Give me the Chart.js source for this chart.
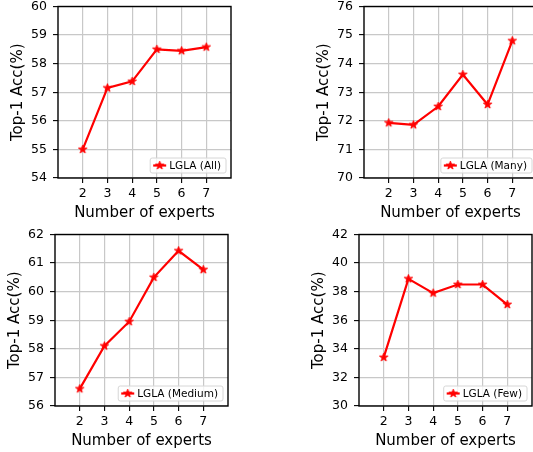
<!DOCTYPE html>
<html>
<head>
<meta charset="utf-8">
<script src="https://cdn.jsdelivr.net/npm/chart.js@4"></script>
<style>
  html, body { margin: 0; padding: 0; background: #fff; }
  body { width: 533px; height: 452px; position: relative; overflow: hidden; }
  canvas { position: absolute; }
</style>
</head>
<body>
<canvas id="pAll" width="245" height="235" style="left:-2px;top:-7px"></canvas>
<canvas id="pMany" width="245" height="235" style="left:304px;top:-7px"></canvas>
<canvas id="pMedium" width="245" height="235" style="left:-5px;top:221px"></canvas>
<canvas id="pFew" width="245" height="235" style="left:299px;top:221px"></canvas>
<script>
// number of experts on the x axis
const experts = [2, 3, 4, 5, 6, 7];

// Top-1 accuracy per split
const accAll    = [55.0, 57.15, 57.38, 58.5, 58.45, 58.58];
const accMany   = [71.93, 71.86, 72.5, 73.62, 72.57, 74.8];
const accMedium = [56.6, 58.1, 58.95, 60.5, 61.43, 60.77];
const accFew    = [33.4, 38.9, 37.9, 38.5, 38.5, 37.1];

// y axis ranges [min, max, step]
const yAll    = [54, 60, 1];
const yMany   = [70, 76, 1];
const yMedium = [56, 62, 1];
const yFew    = [30, 42, 2];

const FONT = 'DejaVu Sans';
const RED = '#ff0000';

// filled five point star, like matplotlib '*'
function makeStar(r) {
    let c = document.createElement('canvas');
    let s = Math.ceil(r * 2 + 2);
    c.width = s; c.height = s;
    let g = c.getContext('2d');
    g.beginPath();
    for (let i = 0; i < 10; i++) {
        let rad = (i % 2 == 0) ? r : r * 0.382;
        let a = -Math.PI / 2 + i * Math.PI / 5;
        let px = s / 2 + rad * Math.cos(a), py = s / 2 + rad * Math.sin(a);
        if (i == 0) g.moveTo(px, py); else g.lineTo(px, py);
    }
    g.closePath();
    g.fillStyle = RED;
    g.fill();
    g.strokeStyle = RED;
    g.lineWidth = 1;
    g.stroke();
    return c;
}
const star = makeStar(4.4);

// black frame round the plot area (all four spines)
const framePlugin = {
    id: 'frame',
    afterDatasetsDraw(chart) {
        let a = chart.chartArea, ctx = chart.ctx;
        ctx.save();
        ctx.strokeStyle = '#000';
        ctx.lineWidth = 1.4;
        ctx.strokeRect(a.left, a.top, a.right - a.left, a.bottom - a.top);
        ctx.restore();
    }
};

// legend box in the lower right corner of the plot area
const cornerLegend = {
    id: 'cornerLegend',
    afterDraw(chart, args, opts) {
        let a = chart.chartArea, ctx = chart.ctx;
        ctx.save();
        ctx.font = '10.5px "' + FONT + '"';
        let tw = ctx.measureText(opts.text).width;
        let h = 15, w = 19 + tw + 5;
        let x = a.right - 5 - w, y = a.bottom - 5 - h;
        ctx.beginPath();
        ctx.roundRect(x, y, w, h, 2);
        ctx.fillStyle = 'rgba(255,255,255,0.8)';
        ctx.fill();
        ctx.strokeStyle = '#d6d6d6';
        ctx.lineWidth = 1;
        ctx.stroke();
        let my = y + h / 2;
        ctx.beginPath();
        ctx.moveTo(x + 3, my);
        ctx.lineTo(x + 16, my);
        ctx.strokeStyle = RED;
        ctx.lineWidth = 2.2;
        ctx.stroke();
        ctx.drawImage(star, x + 9.5 - star.width / 2, my - star.height / 2);
        ctx.fillStyle = '#000';
        ctx.textBaseline = 'middle';
        ctx.fillText(opts.text, x + 19, my + 0.5);
        ctx.restore();
    }
};

function makePanel(id, values, yr, label) {
    let pts = experts.map((e, i) => ({x: e, y: values[i]}));
    new Chart(document.getElementById(id), {
        type: 'line',
        data: {
            datasets: [{
                label: label,
                data: pts,
                borderColor: RED,
                backgroundColor: RED,
                borderWidth: 2.2,
                pointStyle: star,
                tension: 0
            }]
        },
        options: {
            responsive: false,
            animation: false,
            layout: { padding: { top: 0, right: 12, left: 0, bottom: 0 } },
            plugins: {
                legend: { display: false },
                tooltip: { enabled: false },
                cornerLegend: { text: label }
            },
            scales: {
                x: {
                    type: 'linear',
                    min: 1, max: 8,
                    afterBuildTicks: s => { s.ticks = s.ticks.filter(t => t.value >= 2 && t.value <= 7); },
                    afterFit: s => { s.height = 50; },
                    ticks: { stepSize: 1, padding: 3, color: '#000', font: { family: FONT, size: 12.5 } },
                    grid: { color: '#c8c8c8', lineWidth: 1.2, tickColor: '#000', tickLength: 5, tickWidth: 1.1 },
                    border: { display: false },
                    title: {
                        display: true, text: 'Number of experts', color: '#000',
                        font: { family: FONT, size: 15, lineHeight: 1.2 },
                        padding: { top: 0, bottom: 6 }
                    }
                },
                y: {
                    min: yr[0], max: yr[1],
                    afterFit: s => { s.width = 60; },
                    ticks: { stepSize: yr[2], padding: 6, color: '#000', font: { family: FONT, size: 12.5 } },
                    grid: { color: '#c8c8c8', lineWidth: 1.2, tickColor: '#000', tickLength: 5, tickWidth: 1.1 },
                    border: { display: false },
                    title: {
                        display: true, text: 'Top-1 Acc(%)', color: '#000',
                        font: { family: FONT, size: 15, lineHeight: 1.2 },
                        padding: { top: 11, bottom: 0 }
                    }
                }
            }
        },
        plugins: [framePlugin, cornerLegend]
    });
}

makePanel('pAll', accAll, yAll, 'LGLA (All)');
makePanel('pMany', accMany, yMany, 'LGLA (Many)');
makePanel('pMedium', accMedium, yMedium, 'LGLA (Medium)');
makePanel('pFew', accFew, yFew, 'LGLA (Few)');
</script>
</body>
</html>
